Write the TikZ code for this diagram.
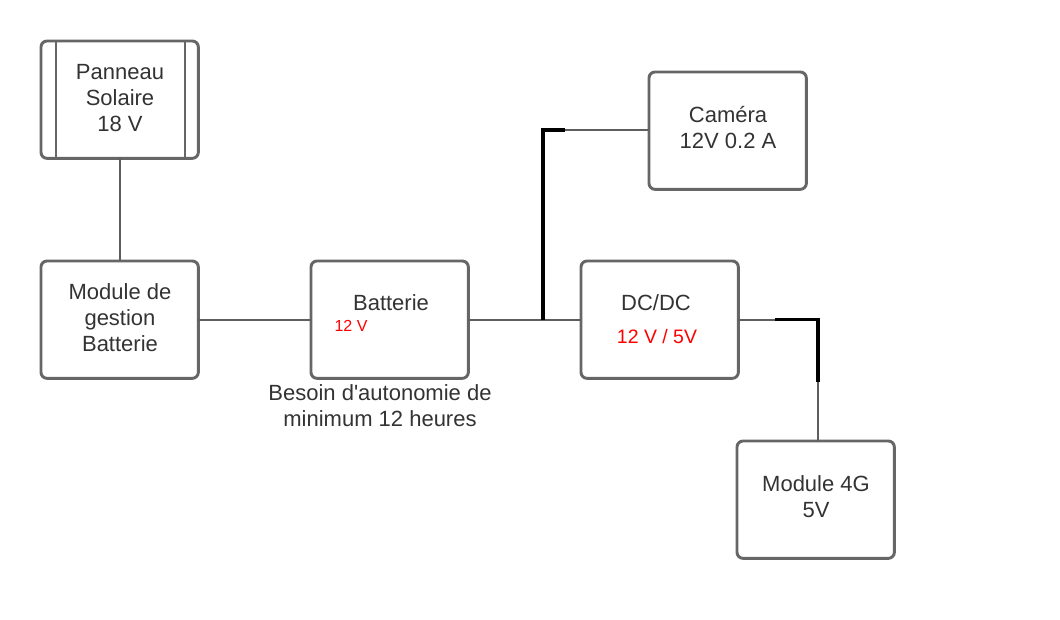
\documentclass[tikz,border=0pt]{standalone}
\usepackage{fontspec}
\setmainfont{Liberation Sans}
\definecolor{boxgray}{HTML}{666666}
\definecolor{linegray}{HTML}{5E5E5E}
\definecolor{txt}{HTML}{333333}
\definecolor{redtxt}{HTML}{FF0000}
\begin{document}
\begin{tikzpicture}[x=0.75pt,y=-0.75pt,
  blk/.style={draw=boxgray,line width=2.2pt,rounded corners=4.5pt,minimum width=118pt,minimum height=88pt,inner sep=0pt,outer sep=0pt,anchor=north west},
  lbl/.style={text=txt,font=\fontsize{16.5}{19.5}\selectfont,align=center,inner sep=0pt},
  wire/.style={draw=linegray,line width=1.5pt},
  bwire/.style={draw=black,line width=2.4pt}]
\useasboundingbox (0,0) rectangle (1060,620);
% blocks
\node[blk] (pan) at (41,41) {};
\draw[boxgray,line width=2.2pt] (56,41) -- (56,158);
\draw[boxgray,line width=2.2pt] (185,41) -- (185,158);
\node[lbl] (pant) at (120,98) {Panneau\\Solaire\\18 V};
\node[blk] (mgb) at (41,261) {};
\node[lbl] (mgbt) at (120,318) {Module de\\gestion\\Batterie};
\node[blk] (bat) at (311,261) {};
\node[lbl] (batt) at (391,303) {Batterie};
\node[text=redtxt,font=\fontsize{12}{14}\selectfont,inner sep=0pt] (batv) at (351,326) {12 V};
\node[lbl] (bes) at (380,406) {Besoin d\textquotesingle autonomie de\\minimum 12 heures};
\node[blk] (dc) at (581,261) {};
\node[lbl] (dct) at (656,303) {DC/DC};
\node[text=redtxt,font=\fontsize{14.6}{17}\selectfont,inner sep=0pt] (dcv) at (657,337) {12 V / 5V};
\node[blk] (cam) at (649,72) {};
\node[lbl] (camt) at (728,128) {Caméra\\12V 0.2 A};
\node[blk] (m4g) at (737,441) {};
\node[lbl] (m4gt) at (816,497) {Module 4G\\5V};
% connectors
\coordinate (x1) at (543,0);
\coordinate (y1) at (0,130);
\coordinate (x2) at (565,0);
\coordinate (x3) at (775,0);
\coordinate (x4) at (818,0);
\coordinate (y4) at (0,382);
\coordinate (j1) at (bat.east -| x1);
\coordinate (j2) at (x1 |- y1);
\coordinate (j3) at (x2 |- y1);
\coordinate (k1) at (dc.east -| x3);
\coordinate (k2) at (dc.east -| x4);
\coordinate (k3) at (x4 |- y4);
\draw[wire] (pan.south) -- (mgb.north);
\draw[wire] (mgb.east) -- (bat.west);
\draw[wire] (bat.east) -- (dc.west);
\draw[bwire] (j1) -- (j2) -- (j3);
\draw[wire] (j3) -- (j3 -| cam.west);
\draw[wire] (dc.east) -- (k1);
\draw[bwire] (k1) -- (k2) -- (k3);
\draw[wire] (k3) -- (k3 |- m4g.north);
\end{tikzpicture}
\end{document}
